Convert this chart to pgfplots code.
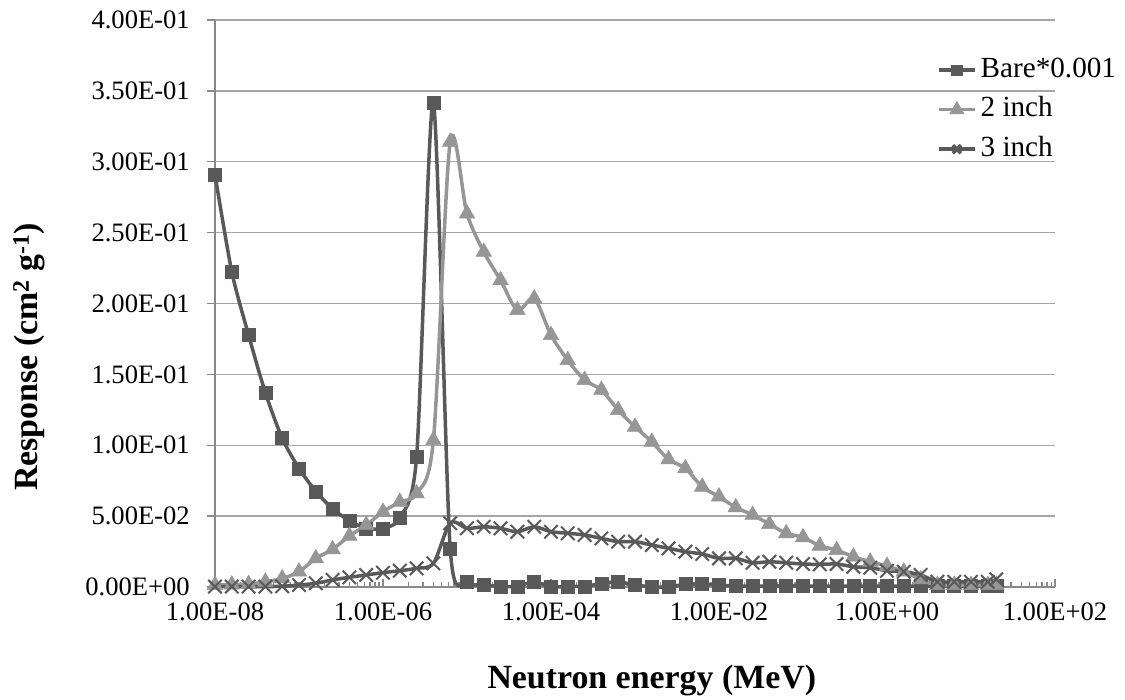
\documentclass[border=0pt]{standalone}
\usepackage{fontspec}
\setmainfont{Liberation Serif}
\usepackage{pgfplots}
\usepackage{pgfplotstable}
\pgfplotsset{compat=1.18}
\definecolor{dk}{HTML}{595959}
\definecolor{lt}{HTML}{969696}
\definecolor{gridc}{HTML}{A6A6A6}
\definecolor{axc}{HTML}{898989}
\pgfplotstableread{
E bare two three
1e-8 0.291 0.0014 0.0003
1.5849e-8 0.2224 0.0017 0.0003
2.5119e-8 0.1777 0.0020 0.0003
3.9811e-8 0.1370 0.0037 0.0003
6.3096e-8 0.1050 0.0060 0.0005
1e-7 0.0837 0.0108 0.0014
1.5849e-7 0.0675 0.0202 0.0026
2.5119e-7 0.0552 0.0266 0.0050
3.9811e-7 0.0468 0.0360 0.0068
6.3096e-7 0.0414 0.0437 0.0085
1e-6 0.0414 0.0530 0.0101
1.5849e-6 0.0489 0.0600 0.0115
2.5119e-6 0.0917 0.0660 0.0132
3.9811e-6 0.3415 0.1036 0.0167
6.3096e-6 0.0273 0.3140 0.0450
1e-5 0.0037 0.2634 0.0414
1.5849e-5 0.0014 0.2364 0.0425
2.5119e-5 0.0005 0.2164 0.0414
3.9811e-5 0.0005 0.1953 0.0390
6.3096e-5 0.0037 0.2035 0.0425
1e-4 0.0000 0.1777 0.0390
1.5849e-4 0.0005 0.1600 0.0379
2.5119e-4 0.0005 0.1460 0.0367
3.9811e-4 0.0025 0.1390 0.0343
6.3096e-4 0.0037 0.1248 0.0320
1e-3 0.0014 0.1130 0.0320
1.5849e-3 0.0002 0.1024 0.0296
2.5119e-3 0.0000 0.0900 0.0273
3.9811e-3 0.0020 0.0837 0.0249
6.3096e-3 0.0020 0.0707 0.0233
1e-2 0.0014 0.0637 0.0202
1.5849e-2 0.0007 0.0562 0.0202
2.5119e-2 0.0007 0.0508 0.0171
3.9811e-2 0.0007 0.0444 0.0178
6.3096e-2 0.0010 0.0379 0.0171
1e-1 0.0007 0.0350 0.0162
1.5849e-1 0.0007 0.0291 0.0160
2.5119e-1 0.0007 0.0260 0.0162
3.9811e-1 0.0007 0.0214 0.0143
6.3096e-1 0.0007 0.0178 0.0136
1 0.0007 0.0148 0.0115
1.5849 0.0007 0.0108 0.0108
2.5119 0.0007 0.0054 0.0085
3.9811 0.0007 0.0014 0.0037
6.3096 0.0007 0.0014 0.0037
10 0.0007 0.0014 0.0037
15.849 0.0007 0.0014 0.0037
20 0.0007 0.0014 0.0054
}\datatab
\begin{document}
\begin{tikzpicture}
\begin{axis}[
  width=840bp, height=567bp, scale only axis,
  xmode=log, xmin=1e-8, xmax=1e2, ymin=0, ymax=0.4,
  clip=false,
  axis x line*=bottom, axis y line*=left,
  axis line style={axc, line width=1.3bp},
  xtick={1e-8,1e-6,1e-4,1e-2,1,1e2},
  xticklabels={1.00E-08,1.00E-06,1.00E-04,1.00E-02,1.00E+00,1.00E+02},
  minor xtick={2e-8,3e-8,4e-8,5e-8,6e-8,7e-8,8e-8,9e-8,
    1e-7,2e-7,3e-7,4e-7,5e-7,6e-7,7e-7,8e-7,9e-7,
    2e-6,3e-6,4e-6,5e-6,6e-6,7e-6,8e-6,9e-6,
    1e-5,2e-5,3e-5,4e-5,5e-5,6e-5,7e-5,8e-5,9e-5,
    2e-4,3e-4,4e-4,5e-4,6e-4,7e-4,8e-4,9e-4,
    1e-3,2e-3,3e-3,4e-3,5e-3,6e-3,7e-3,8e-3,9e-3,
    2e-2,3e-2,4e-2,5e-2,6e-2,7e-2,8e-2,9e-2,
    1e-1,2e-1,3e-1,4e-1,5e-1,6e-1,7e-1,8e-1,9e-1,
    2,3,4,5,6,7,8,9,
    10,20,30,40,50,60,70,80,90},
  ytick={0,0.05,0.1,0.15,0.2,0.25,0.3,0.35,0.4},
  yticklabels={0.00E+00,5.00E-02,1.00E-01,1.50E-01,2.00E-01,2.50E-01,3.00E-01,3.50E-01,4.00E-01},
  ymajorgrids, xmajorgrids=false,
  grid style={gridc, line width=1.3bp},
  tick align=inside,
  major tick length=8bp, minor tick length=5bp,
  tick style={axc, line width=1.3bp},
  y tick style={xshift=-8bp},
  xticklabel style={font=\fontsize{26.7}{30}\selectfont, anchor=north, inner sep=0pt, yshift=-16bp},
  yticklabel style={font=\fontsize{26.7}{30}\selectfont, anchor=east, inner sep=0pt, xshift=-25bp},
  xlabel={Neutron energy (MeV)},
  ylabel={Response (cm\textsuperscript{2} g\textsuperscript{-1})},
  xlabel style={font=\fontsize{34}{38}\selectfont\bfseries, at={(axis description cs:0.52,-0.164)}, anchor=center},
  ylabel style={font=\fontsize{34}{38}\selectfont\bfseries, at={(axis description cs:-0.221,0.406)}, anchor=center},
  legend style={draw=none, fill=none, at={(axis description cs:0.8595,0.9347)}, anchor=north west,
    inner sep=0pt, row sep=13.5bp, font=\fontsize{29.3}{32}\selectfont,
    nodes={inner sep=0pt, text height=20bp, text depth=6bp}},
  legend cell align=left,
  legend image code/.code={\draw[mark repeat=2,mark phase=2,#1,mark options={scale=0.6}] plot coordinates {(0bp,0bp) (18bp,0bp) (36bp,0bp)}; \path (40bp,0bp);},
]
\addplot[smooth, tension=0.45, dk, line width=3.5bp, mark=square*, mark size=6.5bp, mark options={fill=dk, draw=dk, line width=0.5bp}] table[x=E,y=bare] {\datatab};
\addlegendentry{Bare*0.001}
\addplot[smooth, lt, line width=3.5bp, mark=triangle*, mark size=9bp, mark options={fill=lt, draw=lt, line width=0.5bp}] table[x=E,y=two] {\datatab};
\addlegendentry{2 inch}
\addplot[smooth, dk, line width=3.5bp, mark=x, mark size=9.5bp, mark options={draw=dk, line width=2bp}] table[x=E,y=three] {\datatab};
\addlegendentry{3 inch}
\coordinate (O) at (rel axis cs:0,0);
\end{axis}
\pgfresetboundingbox
\path ([shift={(-215bp,-113bp)}]O) rectangle ++(1125bp,700bp);
\end{tikzpicture}
\end{document}
